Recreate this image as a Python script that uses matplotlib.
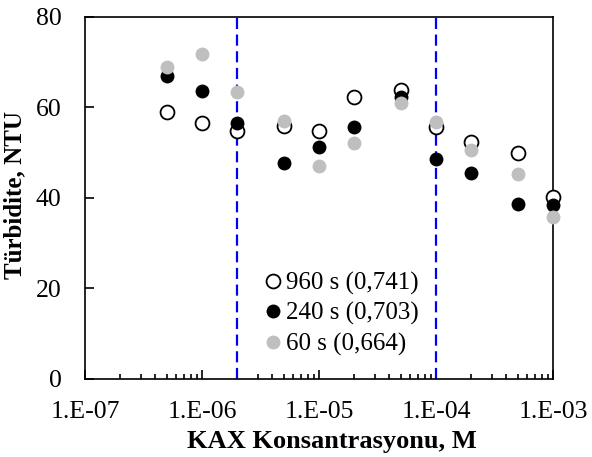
import math
import matplotlib
matplotlib.use("Agg")
import matplotlib.pyplot as plt
from matplotlib.ticker import FuncFormatter, LogLocator, FixedLocator

plt.rcParams["font.family"] = ["Liberation Serif", "DejaVu Serif"]

# KAX konsantrasyonu (M)
conc = [5e-7, 1e-6, 2e-6, 5e-6, 1e-5, 2e-5, 5e-5, 1e-4, 2e-4, 5e-4, 1e-3]

# Türbidite (NTU)
turb_960 = [58.9, 56.6, 54.7, 55.9, 54.7, 62.2, 63.8, 55.6, 52.4, 50.0, 40.3]
turb_240 = [67.0, 63.6, 56.5, 47.8, 51.3, 55.6, 62.3, 48.7, 45.6, 38.6, 38.5]
turb_60  = [68.9, 71.7, 63.5, 57.0, 47.1, 52.1, 60.9, 56.7, 50.7, 45.2, 35.8]

labels = ["960 s (0,741)", "240 s (0,703)", "60 s (0,664)"]
vlines = [2e-6, 1e-4]

x_ticks = [1e-7, 1e-6, 1e-5, 1e-4, 1e-3]
y_ticks = [0, 20, 40, 60, 80]

fig, ax = plt.subplots(figsize=(5.92, 4.57), dpi=100)
fig.subplots_adjust(left=0.1436, right=0.934, top=0.963, bottom=0.1707)

ms = 10
ax.plot(conc, turb_960, "o", ms=ms, mfc="white", mec="black", mew=1.3,
        ls="none", label=labels[0], zorder=3, clip_on=False)
ax.plot(conc, turb_240, "o", ms=ms, mfc="black", mec="black", mew=0,
        ls="none", label=labels[1], zorder=4, clip_on=False)
ax.plot(conc, turb_60, "o", ms=ms, mfc="#bfbfbf", mec="#bfbfbf", mew=0,
        ls="none", label=labels[2], zorder=5, clip_on=False)

for xv in vlines:
    ax.axvline(xv, color="#0000ff", ls=(0, (5, 2.5)), lw=1.6, zorder=2)

ax.set_xscale("log")
ax.set_xlim(1e-7, 1e-3)
ax.set_ylim(0, 80)
ax.xaxis.set_major_locator(FixedLocator(x_ticks))
ax.xaxis.set_minor_locator(LogLocator(base=10, subs=range(2, 10), numticks=20))
ax.xaxis.set_major_formatter(FuncFormatter(lambda v, p: "1.E%+03d" % round(math.log10(v))))
ax.set_yticks(y_ticks)

ax.tick_params(which="major", direction="in", length=6.5, width=1.2,
               labelsize=18.5, top=False, right=False)
ax.tick_params(axis="x", which="major", pad=16)
ax.tick_params(axis="y", which="major", pad=17)
ax.tick_params(which="minor", direction="in", length=3.5, width=1.2,
               top=False, right=False)
for s in ax.spines.values():
    s.set_linewidth(1.2)

ax.set_xlabel("KAX Konsantrasyonu, M", fontsize=19, fontweight="bold")
ax.set_ylabel("Türbidite, NTU", fontsize=18, fontweight="bold")
ax.xaxis.set_label_coords(0.528, -0.14)
ax.yaxis.set_label_coords(-0.125, 0.508)

ax.legend(loc="center left", bbox_to_anchor=(0.389, 0.18), frameon=False,
          fontsize=18, handletextpad=0.25, handlelength=0.5, labelspacing=0.3,
          borderpad=0, borderaxespad=0)

fig.savefig("out.png", dpi=100)
